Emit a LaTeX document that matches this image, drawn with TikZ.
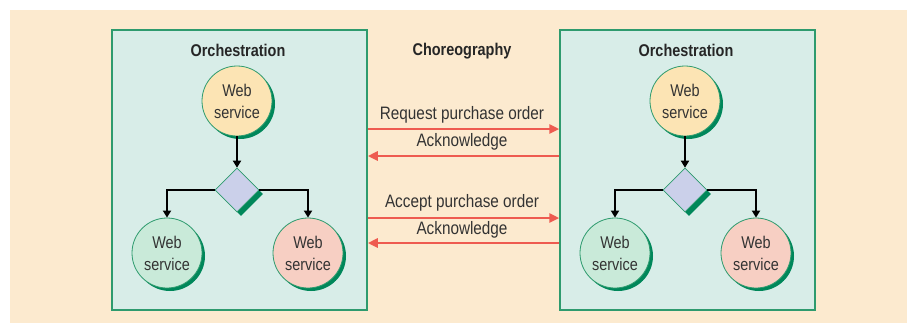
\documentclass[tikz,border=0pt]{standalone}
\usepackage{fontspec}
\setmainfont[FakeStretch=0.85]{Liberation Sans}
\usetikzlibrary{shapes.geometric,arrows.meta}
\definecolor{bgc}{HTML}{FCEACF}
\definecolor{boxc}{HTML}{D8EDE8}
\definecolor{grn}{HTML}{2E9B6E}
\definecolor{shd}{HTML}{00875A}
\definecolor{yel}{HTML}{FCE4B4}
\definecolor{mint}{HTML}{C9EAD9}
\definecolor{pinkc}{HTML}{F7CFC3}
\definecolor{lav}{HTML}{CBD0EA}
\definecolor{redc}{HTML}{EE5B50}
\definecolor{txt}{HTML}{333333}
\tikzset{
 panel/.style={draw=grn, line width=1.5pt, fill=boxc, minimum width=255pt, minimum height=280pt, inner sep=0},
 ws/.style={circle, draw=grn, line width=0.8pt, minimum size=70pt, inner sep=0, align=center, text=txt, font=\fontsize{17}{22}\selectfont},
 wsshadow/.style={circle, fill=shd, minimum size=70pt, inner sep=0},
 gate/.style={diamond, draw=grn, line width=0.6pt, fill=lav, minimum size=44pt, inner sep=0},
 gateshadow/.style={diamond, fill=shd, minimum size=44pt, inner sep=0},
 titletext/.style={font=\bfseries\fontsize{17}{19}\selectfont, text=black!85},
 msg/.style={font=\fontsize{18}{20}\selectfont, text=txt},
 flow/.style={-{Triangle[length=7pt,width=8pt]}, line width=1.8pt, black},
 redarrow/.style={-{Triangle[length=10pt,width=9pt]}, line width=2.5pt, redc},
}
\newcommand{\orchgroup}[2]{%
\begin{scope}[xshift=#1pt]
\node[panel] (#2box) at (239.5,170) {};
\node[titletext] (#2title) at (238,50) {Orchestration};
\node[wsshadow] (#2tops) at (240,104) {};
\node[ws, fill=yel] (#2top) at (237,101) {Web\\service};
\node[gateshadow] (#2gates) at (241,194) {};
\node[gate] (#2gate) at (237,190) {};
\node[wsshadow] (#2bls) at (170,256) {};
\node[ws, fill=mint] (#2bl) at (167,253) {Web\\service};
\node[wsshadow] (#2brs) at (311,256) {};
\node[ws, fill=pinkc] (#2br) at (308,253) {Web\\service};
\draw[flow] (#2top) -- (#2gate);
\draw[flow] (#2gate.west) -| (#2bl);
\draw[flow] (#2gate.east) -| (#2br);
\end{scope}}
\begin{document}
\begin{tikzpicture}[x=1pt,y=-1pt]
\useasboundingbox (0,0) rectangle (907,327);
\fill[bgc] (10,10) rectangle (907,323);
\orchgroup{0}{L}
\orchgroup{448}{R}
\node[titletext] (chor) at (462,51) {Choreography};
\coordinate (m1) at (462,129);
\coordinate (m2) at (462,156);
\coordinate (m3) at (462,218);
\coordinate (m4) at (462,243);
\node[msg] (t1) at (462,115) {Request purchase order};
\node[msg] (t2) at (462,142) {Acknowledge};
\node[msg] (t3) at (462,203) {Accept purchase order};
\node[msg] (t4) at (462,230) {Acknowledge};
\draw[redarrow] (Lbox.east |- m1) -- (Rbox.west |- m1);
\draw[redarrow] (Rbox.west |- m2) -- (Lbox.east |- m2);
\draw[redarrow] (Lbox.east |- m3) -- (Rbox.west |- m3);
\draw[redarrow] (Rbox.west |- m4) -- (Lbox.east |- m4);
\end{tikzpicture}
\end{document}
